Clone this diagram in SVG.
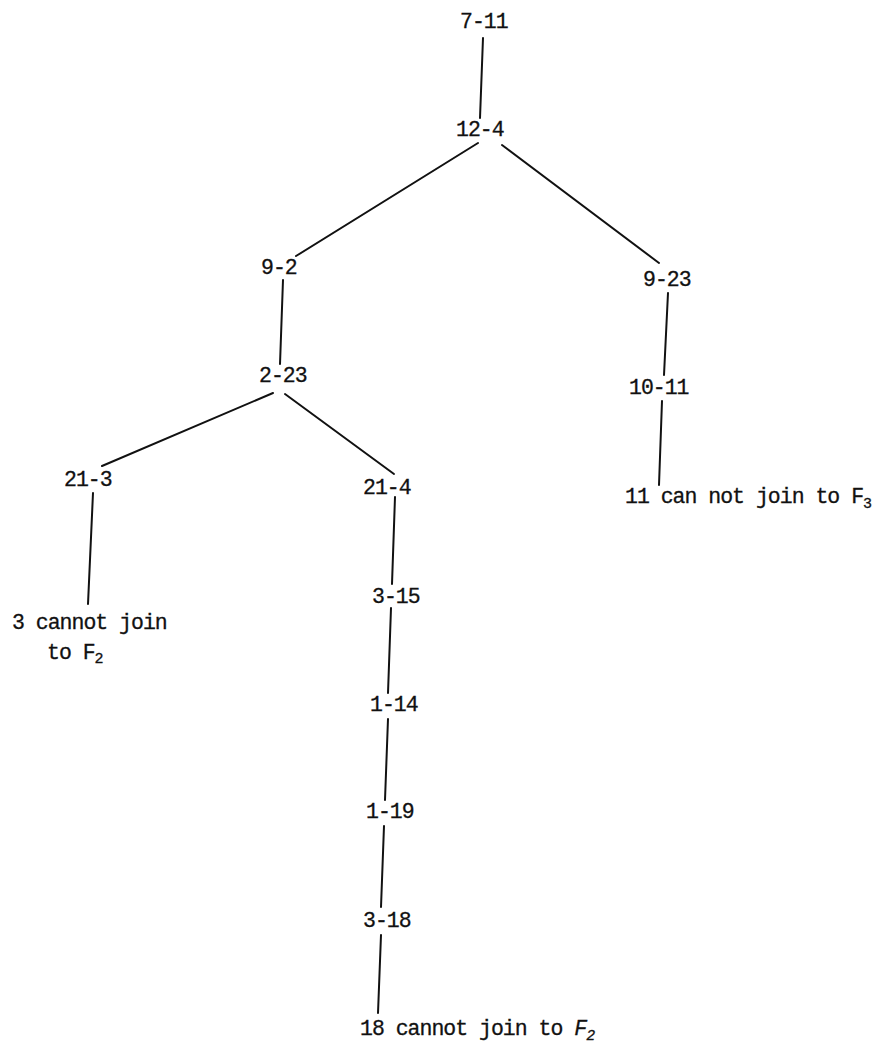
<svg xmlns="http://www.w3.org/2000/svg" width="882" height="1045" viewBox="0 0 882 1045">
<style>
text{font-family:"Liberation Mono","DejaVu Sans Mono",monospace;font-size:21.5px;letter-spacing:-1px;fill:#111;stroke:#111;stroke-width:0.3}
.sub{font-size:15px;letter-spacing:0}
#edges line{stroke:#111;stroke-width:2;stroke-linecap:round}
</style>
<rect width="882" height="1045" fill="#fff"/>
<g id="edges">
<line x1="483" y1="38" x2="480" y2="118"/>
<line x1="478" y1="143" x2="296" y2="256"/>
<line x1="502" y1="145" x2="659" y2="263"/>
<line x1="283" y1="280" x2="280" y2="364"/>
<line x1="273" y1="393" x2="102" y2="466"/>
<line x1="285" y1="394" x2="394" y2="474"/>
<line x1="93" y1="493" x2="88" y2="604"/>
<line x1="395" y1="497" x2="392" y2="584"/>
<line x1="391" y1="608" x2="388" y2="693"/>
<line x1="388" y1="719" x2="385" y2="800"/>
<line x1="384" y1="826" x2="381" y2="907"/>
<line x1="381" y1="935" x2="378" y2="1013"/>
<line x1="668" y1="293" x2="664" y2="375"/>
<line x1="662" y1="401" x2="659" y2="485"/>
</g>
<g id="n-7-11"><text x="460" y="28">7-11</text></g>
<g id="n-12-4"><text x="456" y="136">12-4</text></g>
<g id="n-9-2"><text x="261" y="274">9-2</text></g>
<g id="n-9-23"><text x="643" y="286">9-23</text></g>
<g id="n-2-23"><text x="259" y="382">2-23</text></g>
<g id="n-10-11"><text x="629" y="394">10-11</text></g>
<g id="n-21-3"><text x="64" y="486">21-3</text></g>
<g id="n-21-4"><text x="363" y="494">21-4</text></g>
<g id="n-11-cannot"><text x="625" y="503">11 can not join to F<tspan class="sub" dy="5">3</tspan></text></g>
<g id="n-3-cannot"><text x="12" y="629">3 cannot join</text><text x="47" y="659">to F<tspan class="sub" dy="4">2</tspan></text></g>
<g id="n-3-15"><text x="372" y="603">3-15</text></g>
<g id="n-1-14"><text x="370" y="711">1-14</text></g>
<g id="n-1-19"><text x="366" y="818">1-19</text></g>
<g id="n-3-18"><text x="363" y="927">3-18</text></g>
<g id="n-18-cannot"><text x="360" y="1035">18 cannot join to <tspan font-style="italic">F</tspan><tspan class="sub" font-style="italic" dy="5">2</tspan></text></g>
</svg>
